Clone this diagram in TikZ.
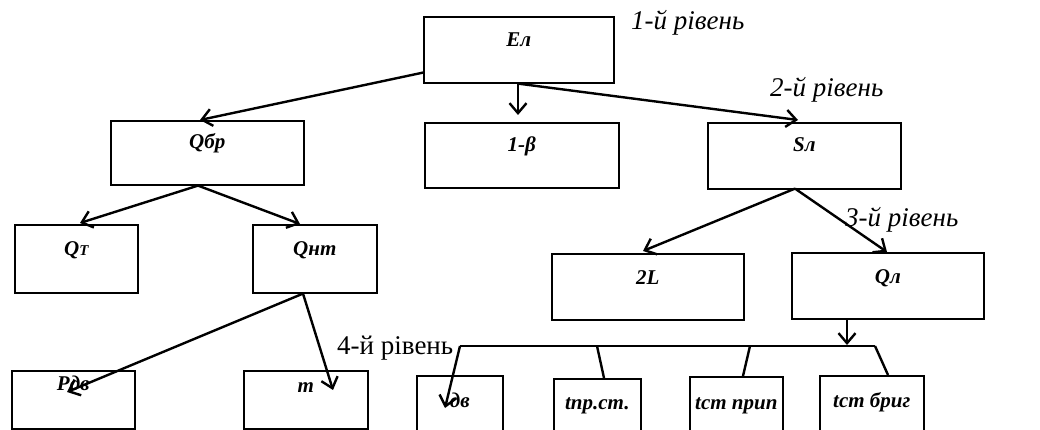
\documentclass[tikz,border=0pt]{standalone}
\usepackage{fontspec}
\setmainfont{Liberation Serif}
\usetikzlibrary{arrows.meta,calc}
\tikzset{
  box/.style={draw, line width=1.6pt, inner sep=0pt, anchor=north west},
  boxlbl/.style={font=\fontsize{21}{21}\selectfont\bfseries\itshape, anchor=base, inner sep=0pt},
  arr/.style={line width=2.4pt, -{Straight Barb[length=10pt,width=17pt,line width=2.4pt]}},
  link/.style={line width=2.4pt},
  bus/.style={line width=1.1pt},
  lvl/.style={font=\fontsize{27}{27}\selectfont\itshape, anchor=base west, inner sep=0pt},
  lvlup/.style={font=\fontsize{27}{27}\selectfont, anchor=base west, inner sep=0pt}
}
\begin{document}
\begin{tikzpicture}[x=1pt,y=-1pt]
\useasboundingbox (0,0) rectangle (1040,430);
\clip (0,0) rectangle (1040,430);
% boxes
\node[box, minimum width=190pt, minimum height=66pt, label={[boxlbl, yshift=-31pt]north:Ел}] (el) at (423,16) {};
\node[box, minimum width=193pt, minimum height=64pt, label={[boxlbl, yshift=-29pt]north:Qбр}] (qbr) at (110,120) {};
\node[box, minimum width=194pt, minimum height=65pt, label={[boxlbl, yshift=-30pt]north:1-β}] (beta) at (424,122) {};
\node[box, minimum width=193pt, minimum height=66pt, label={[boxlbl, yshift=-30pt]north:Sл}] (sl) at (707,122) {};
\node[box, minimum width=123pt, minimum height=68pt, label={[boxlbl, yshift=-31pt]north:Q{\fontsize{15}{15}\selectfont Т}}] (qt) at (14,224) {};
\node[box, minimum width=124pt, minimum height=68pt, label={[boxlbl, yshift=-31pt]north:Qнт}] (qnt) at (252,224) {};
\node[box, minimum width=192pt, minimum height=66pt, label={[boxlbl, yshift=-31pt]north:2L}] (ltwo) at (551,253) {};
\node[box, minimum width=192pt, minimum height=66pt, label={[boxlbl, yshift=-31pt]north:Qл}] (ql) at (791,252) {};
\node[box, minimum width=123pt, minimum height=58pt, label={[boxlbl, yshift=-20pt]north:Pдв}] (pdv) at (11,370) {};
\node[box, minimum width=124pt, minimum height=58pt, label={[boxlbl, yshift=-22pt]north:m}] (m) at (243,370) {};
\node[box, minimum width=86pt, minimum height=70pt, label={[boxlbl, yshift=-32pt]north:дв}] (dv) at (416,375) {};
\node[box, minimum width=87pt, minimum height=70pt, label={[boxlbl, yshift=-31pt]north:tпр.ст.}] (tps) at (553,378) {};
\node[box, minimum width=93pt, minimum height=70pt, label={[boxlbl, yshift=-33pt]north:tст прип}] (tsp) at (689,376) {};
\node[box, minimum width=104pt, minimum height=70pt, label={[boxlbl, yshift=-32pt]north:tст бриг}] (tsb) at (819,375) {};
% level labels
\node[lvl] (lv1) at (631,30) {1-й рівень};
\node[lvl] (lv2) at (770,97) {2-й рівень};
\node[lvl] (lv3) at (845,226) {3-й рівень};
\node[lvlup] (lv4) at (337,354) {4-й рівень};
% bus coordinates
\coordinate (busL) at (460,346);
\coordinate (busR) at (875,346);
\coordinate (bustwo) at (597,346);
\coordinate (busthree) at (750,346);
\coordinate (qltip) at (847,345);
% connectors
\draw[arr] ($(el.south west)+(0,-11)$) -- ($(qbr.north west)+(90,0)$);
\draw[arr] ($(el.south west)+(95,0)$) -- ($(beta.north west)+(94,-7)$);
\draw[arr] ($(el.south west)+(95,0)$) -- ($(sl.north west)+(91,-2)$);
\draw[arr] ($(qbr.south west)+(88,0)$) -- ($(qt.north west)+(66,-1)$);
\draw[arr] ($(qbr.south west)+(88,0)$) -- ($(qnt.north west)+(48,0)$);
\draw[arr] ($(qnt.south west)+(51,0)$) -- ($(pdv.north west)+(56,22)$);
\draw[arr] ($(qnt.south west)+(51,0)$) -- ($(m.north west)+(90,20)$);
\draw[arr] ($(sl.south west)+(88,-1)$) -- ($(ltwo.north west)+(92,-2)$);
\draw[arr] ($(sl.south west)+(88,-1)$) -- ($(ql.north west)+(96,0)$);
\draw[arr] ($(ql.south west)+(56,0)$) -- (qltip);
\draw[bus] (busL) -- (busR);
\draw[arr] (busL) -- ($(dv.north west)+(29,33)$);
\draw[link] (bustwo) -- ($(tps.north west)+(51,0)$);
\draw[link] (busthree) -- ($(tsp.north west)+(54,0)$);
\draw[link] (busR) -- ($(tsb.north west)+(69,0)$);
\end{tikzpicture}
\end{document}
